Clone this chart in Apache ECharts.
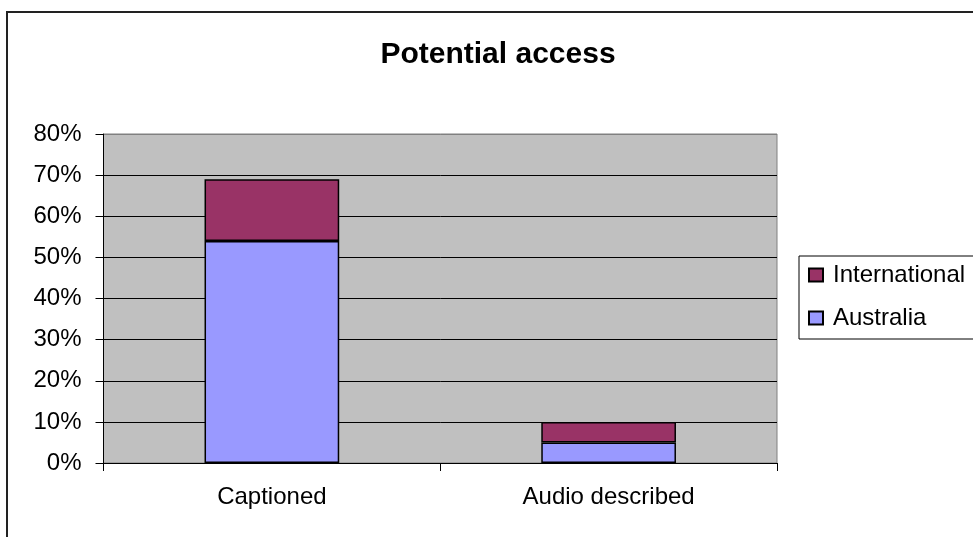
<!DOCTYPE html>
<html>
<head>
<meta charset="utf-8">
<script src="https://cdn.jsdelivr.net/npm/echarts@6/dist/echarts.min.js"></script>
<style>
html,body{margin:0;padding:0;background:#fff;}
#chart{width:973px;height:537px;}
</style>
</head>
<body>
<div id="chart"></div>
<script>
const categories = ['Captioned', 'Audio described'];
const australia = [54, 5];
const international = [15, 5];
const legendOrder = ['International', 'Australia'];
const titleText = 'Potential access';

const FONT = "'Liberation Sans', Arial, sans-serif";
const chart = echarts.init(document.getElementById('chart'), null, {renderer: 'canvas'});
chart.setOption({
  backgroundColor: '#ffffff',
  animation: false,
  title: {
    text: titleText,
    left: 498,
    textAlign: 'center',
    top: 40,
    padding: 0,
    textStyle: {fontFamily: FONT, fontSize: 30, fontWeight: 'bold', color: '#000'}
  },
  graphic: [{
    type: 'rect',
    shape: {x: 7, y: 12, width: 1000, height: 600},
    style: {fill: 'none', stroke: '#222', lineWidth: 2},
    silent: true
  }],
  legend: {
    data: legendOrder,
    orient: 'vertical',
    left: 799,
    top: 256,
    padding: [6, 10, 8, 9],
    itemGap: 17,
    itemWidth: 14,
    itemHeight: 13,
    icon: 'rect',
    borderColor: '#000',
    borderWidth: 1,
    backgroundColor: '#fff',
    textStyle: {fontFamily: FONT, fontSize: 24, color: '#000', lineHeight: 26, padding: [0, 0, 0, 5]}
  },
  grid: {
    left: 103.5,
    right: 196,
    top: 134,
    bottom: 74,
    show: true,
    backgroundColor: '#C0C0C0',
    borderColor: '#808080',
    borderWidth: 1,
    containLabel: false
  },
  xAxis: {
    type: 'category',
    data: categories,
    axisLine: {show: true, lineStyle: {color: '#000', width: 1}},
    axisTick: {show: true, length: 8, alignWithLabel: false, lineStyle: {color: '#000'}},
    axisLabel: {fontFamily: FONT, fontSize: 24, color: '#000', margin: 22},
    splitLine: {show: false}
  },
  yAxis: {
    type: 'value',
    min: 0,
    max: 80,
    interval: 10,
    axisLine: {show: true, lineStyle: {color: '#000', width: 1}},
    axisTick: {show: true, length: 8, lineStyle: {color: '#000'}},
    axisLabel: {fontFamily: FONT, fontSize: 24, color: '#000', margin: 22, formatter: '{value}%'},
    splitLine: {show: true, lineStyle: {color: ['#000','#000','#000','#000','#000','#000','#000','#000','#808080'], width: 1}}
  },
  series: [
    {
      name: 'Australia',
      type: 'bar',
      stack: 'total',
      data: australia,
      barWidth: '40%',
      itemStyle: {color: '#9999FF', borderColor: '#000', borderWidth: 1.5}
    },
    {
      name: 'International',
      type: 'bar',
      stack: 'total',
      data: international,
      barWidth: '40%',
      itemStyle: {color: '#993366', borderColor: '#000', borderWidth: 1.5}
    }
  ]
});
</script>
</body>
</html>
